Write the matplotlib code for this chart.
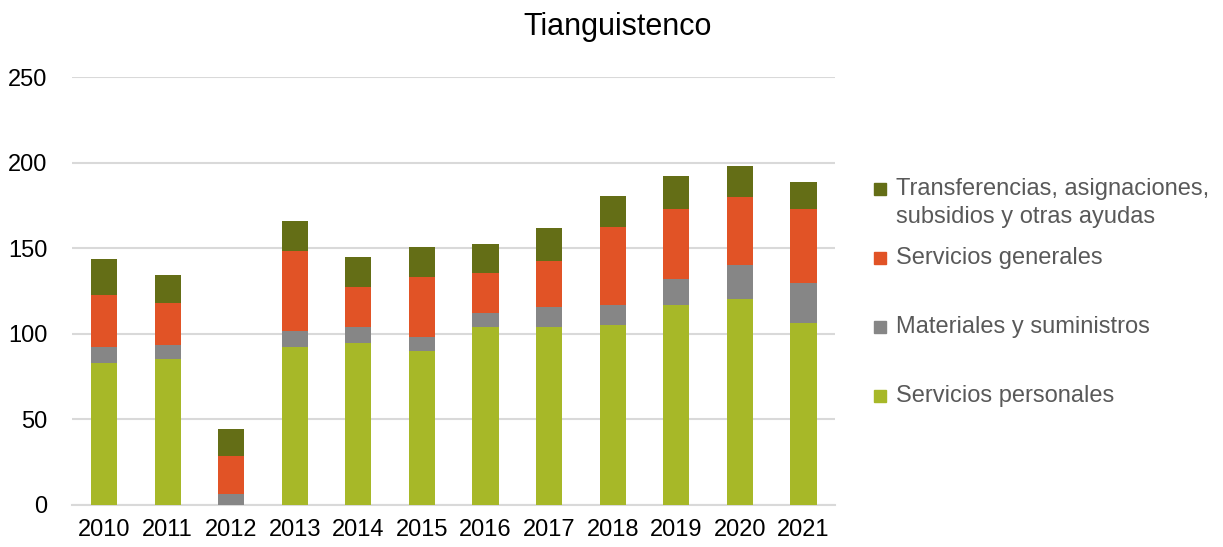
import matplotlib.pyplot as plt
import matplotlib.patches as mpatches
import numpy as np

years = ['2010', '2011', '2012', '2013', '2014', '2015',
         '2016', '2017', '2018', '2019', '2020', '2021']
personales = [83.1, 85.4, 0.0, 92.4, 94.7, 90.1, 104.1, 104.1, 105.3, 116.9, 120.4, 106.4]
materiales = [9.1, 8.0, 6.4, 9.2, 9.2, 8.0, 8.0, 11.5, 11.4, 15.0, 19.7, 23.2]
generales = [30.4, 24.5, 22.2, 46.8, 23.5, 35.0, 23.3, 26.8, 45.6, 40.9, 39.7, 43.2]
transferencias = [21.0, 16.3, 16.0, 17.4, 17.3, 17.5, 17.3, 19.7, 18.4, 19.6, 18.4, 16.1]

series = [personales, materiales, generales, transferencias]
labels = ['Servicios personales', 'Materiales y suministros',
          'Servicios generales', 'Transferencias, asignaciones,\nsubsidios y otras ayudas']
colors = ['#A7B828', '#868686', '#E15326', '#646E16']

plt.rcParams['font.family'] = ['Liberation Sans', 'DejaVu Sans']

fig = plt.figure(figsize=(12.23, 5.47), dpi=100)
ax = fig.add_axes([0.059, 0.077, 0.624, 0.782])

x = np.arange(len(years))
bottom = np.zeros(len(years))
for vals, col in zip(series, colors):
    ax.bar(x, vals, 0.41, bottom=bottom, color=col, zorder=3)
    bottom += np.array(vals)

ax.set_xlim(-0.5, len(years) - 0.5)
ax.set_ylim(0, 250)
ax.set_yticks([0, 50, 100, 150, 200, 250])
ax.set_xticks(x)
ax.set_xticklabels(years)
ax.yaxis.grid(True, color='#D9D9D9', linewidth=1.5, zorder=0)
for s in ['top', 'right', 'left']:
    ax.spines[s].set_visible(False)
ax.spines['bottom'].set_color('#D9D9D9')
ax.spines['bottom'].set_linewidth(1.5)
ax.tick_params(axis='both', length=0, labelsize=17, colors='black')
ax.tick_params(axis='y', pad=18)
ax.tick_params(axis='x', pad=10)

fig.text(0.505, 0.95, 'Tianguistenco', ha='center', va='center', fontsize=22)

# legend drawn by hand to match the uneven spacing
leg_y = [396, 327, 258, 189]
for lab, col, py in zip(labels, colors, leg_y):
    yf = 1 - py / 547
    fig.patches.append(mpatches.Rectangle((874 / 1223, yf - 6 / 547), 12 / 1223, 12 / 547,
                                          transform=fig.transFigure, color=col))
    for i, line in enumerate(lab.split('\n')):
        fig.text(896 / 1223, 1 - (py + 28 * i) / 547, line, ha='left', va='center',
                 fontsize=17, color='#595959')

fig.savefig('out.png', dpi=100)
